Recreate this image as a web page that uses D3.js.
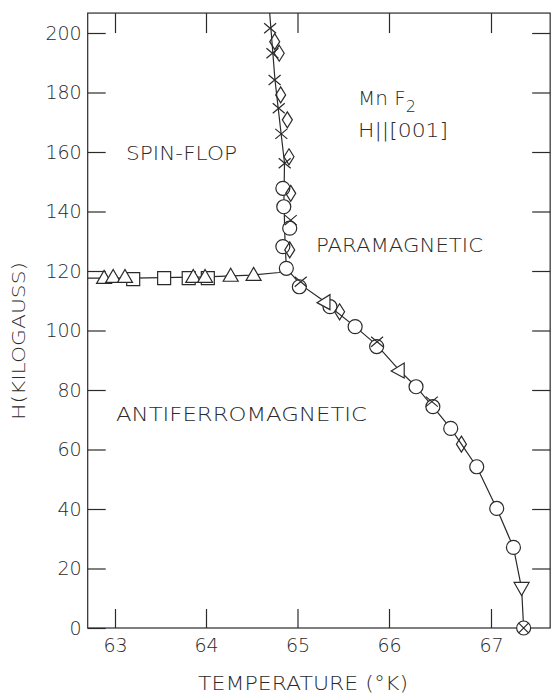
<!DOCTYPE html>
<html>
<head>
<meta charset="utf-8">
<script src="https://cdn.jsdelivr.net/npm/d3@7"></script>
<style>
  body { margin: 0; background: #fff; }
  text { font-family: "DejaVu Sans", sans-serif; font-weight: 200; fill: #2a2a2a; }
</style>
</head>
<body>
<script>
// axis ticks
var tempTicks = [63, 64, 65, 66, 67];
var fieldTicks = [0, 20, 40, 60, 80, 100, 120, 140, 160, 180, 200];

// phase boundaries [T (K), H (kG)]
var afSfLine = [[62.70, 117.6], [63.2, 117.6], [64.0, 118.0], [64.5, 118.6], [64.8, 119.5], [64.878, 121.0]];
var sfParaLine = [[64.696, 206.7], [64.754, 184.2], [64.820, 166.4], [64.858, 156.3], [64.852, 143.9], [64.863, 130.4], [64.878, 121.0]];
var afParaLine = [[64.878, 121.0], [65.03, 115.5], [65.30, 109.7], [65.355, 108.0], [65.63, 101.3], [65.87, 95.0],
  [66.10, 86.7], [66.265, 81.1], [66.43, 74.4], [66.605, 67.1], [66.71, 61.8], [66.86, 54.2],
  [67.056, 40.2], [67.22, 27.1], [67.30, 13.3], [67.32, 0]];

// measured points by symbol
var circles = [[64.84, 147.8], [64.85, 141.6], [64.915, 134.4], [64.84, 128.2], [64.878, 120.9], [65.02, 114.7],
  [65.355, 108.0], [65.63, 101.3], [65.865, 94.6], [66.265, 81.1], [66.43, 74.4], [66.605, 67.1],
  [66.86, 54.2], [67.056, 40.2], [67.22, 27.1]];
var diamonds = [[64.751, 197.1], [64.80, 193.2], [64.816, 179.2], [64.889, 170.8], [64.907, 158.4],
  [64.926, 146.1], [64.915, 127.1], [65.46, 106.3], [66.71, 61.8]];
var crosses = [[64.701, 201.6], [64.726, 193.2], [64.75, 184.2], [64.795, 174.7], [64.823, 166.1],
  [64.86, 156.2], [64.926, 137.1], [65.035, 116.4], [65.87, 96.2], [66.42, 76.1]];
var trianglesUp = [[62.88, 117.7], [62.98, 118.0], [63.11, 118.0], [63.86, 118.0], [63.99, 118.0], [64.27, 118.4], [64.52, 118.7]];
var squares = [[63.20, 117.3], [63.54, 117.6], [63.81, 117.6], [64.02, 117.6]];
var trianglesLeft = [[65.30, 109.7], [66.10, 86.7]];
var trianglesDown = [[67.30, 13.3]];
var circleCross = [[67.32, 0]];

var svg = d3.select("body").append("svg")
  .attr("width", 551)
  .attr("height", 696);

// the original temperature axis is slightly uneven, so piecewise
var x = d3.scaleLinear().domain(tempTicks).range([115, 206, 297.5, 389, 491]);
var y = d3.scaleLinear().domain([0, 200]).range([628, 33]);

var tMin = 62.70, tMax = 67.58, hMax = 206.7;
var ink = "#2a2a2a";

// frame
svg.append("rect")
  .attr("x", x(tMin)).attr("y", y(hMax))
  .attr("width", x(tMax) - x(tMin)).attr("height", y(0) - y(hMax))
  .attr("fill", "none").attr("stroke", ink).attr("stroke-width", 1.2);

function styleAxis(g) {
  g.select(".domain").remove();
  g.selectAll(".tick line").attr("stroke", ink).attr("stroke-width", 1.2);
  g.selectAll(".tick text").attr("font-size", 19).attr("fill", ink)
    .style("font-family", "DejaVu Sans").style("font-weight", 200);
}

svg.append("g")
  .attr("transform", "translate(" + x(tMin) + ",0)")
  .call(d3.axisLeft(y).tickValues(fieldTicks).tickSizeInner(-18).tickSizeOuter(0).tickPadding(6))
  .call(styleAxis);

svg.append("g")
  .attr("transform", "translate(" + x(tMax) + ",0)")
  .call(d3.axisRight(y).tickValues(fieldTicks.slice(1)).tickSizeInner(-18).tickSizeOuter(0).tickFormat(""))
  .call(styleAxis);

svg.append("g")
  .attr("transform", "translate(0," + y(0) + ")")
  .call(d3.axisBottom(x).tickValues(tempTicks).tickSizeInner(-19).tickSizeOuter(0).tickPadding(11).tickFormat(d3.format("d")))
  .call(styleAxis);

svg.append("g")
  .attr("transform", "translate(0," + y(hMax) + ")")
  .call(d3.axisTop(x).tickValues(tempTicks).tickSizeInner(-20).tickSizeOuter(0).tickFormat(""))
  .call(styleAxis);

// boundary lines
var line = d3.line()
  .x(function(d) { return x(d[0]); })
  .y(function(d) { return y(d[1]); });

[afSfLine, sfParaLine, afParaLine].forEach(function(pts) {
  svg.append("path")
    .attr("d", line(pts))
    .attr("fill", "none")
    .attr("stroke", ink)
    .attr("stroke-width", 1.2);
});

// markers
function drawMarks(data, pathStr, fill) {
  svg.append("g").selectAll("path")
    .data(data)
    .enter()
    .append("path")
    .attr("transform", function(d) { return "translate(" + x(d[0]) + "," + y(d[1]) + ")"; })
    .attr("d", pathStr)
    .attr("fill", fill)
    .attr("stroke", ink)
    .attr("stroke-width", 1.2);
}

var circlePath = "M7,0A7,7 0 1,1 -7,0A7,7 0 1,1 7,0Z";
drawMarks(circles, circlePath, "#fff");
drawMarks(squares, "M-6.5,-6.5H6.5V6.5H-6.5Z", "#fff");
drawMarks(trianglesUp, "M0,-7.5L7.5,5.5L-7.5,5.5Z", "#fff");
drawMarks(trianglesLeft, "M-8,1L5,-7L5,8Z", "#fff");
drawMarks(trianglesDown, "M-7.5,-6L7.5,-6L0,7Z", "#fff");
drawMarks(diamonds, "M0,-8L5,0L0,8L-5,0Z", "none");
drawMarks(crosses, "M-6,-5L6,5M6,-5L-6,5", "none");
drawMarks(circleCross, circlePath + "M-4.6,-4.6L4.6,4.6M4.6,-4.6L-4.6,4.6", "#fff");

// labels
function label(txt, px, py, len, size) {
  return svg.append("text")
    .attr("x", px).attr("y", py)
    .attr("font-size", size || 19)
    .attr("textLength", len)
    .attr("lengthAdjust", "spacingAndGlyphs")
    .text(txt);
}

label("SPIN-FLOP", 126, 160, 111);
label("PARAMAGNETIC", 316, 252, 167);
label("ANTIFERROMAGNETIC", 116, 421, 251);
label("TEMPERATURE (°K)", 198, 690, 210);

var mn = svg.append("text").attr("x", 358).attr("y", 105).attr("font-size", 20);
mn.append("tspan").text("Mn F");
mn.append("tspan").attr("font-size", 16).attr("dy", 7).text("2");

label("H||[001]", 358, 137, 90, 20);

svg.append("text")
  .attr("transform", "translate(25,341) rotate(-90)")
  .attr("text-anchor", "middle")
  .attr("font-size", 18)
  .attr("textLength", 158)
  .attr("lengthAdjust", "spacingAndGlyphs")
  .text("H(KILOGAUSS)");
</script>
</body>
</html>
